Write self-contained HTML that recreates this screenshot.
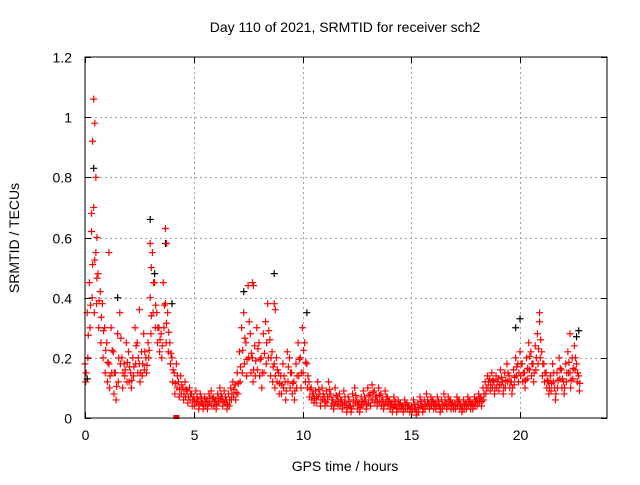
<!DOCTYPE html>
<html><head><meta charset="utf-8"><style>
body{margin:0;background:#fff;}
svg text{font-family:"Liberation Sans",sans-serif;font-size:14px;fill:#000;}
</style></head><body>
<svg id="chart" width="640" height="480" xmlns="http://www.w3.org/2000/svg">
<rect width="640" height="480" fill="#fff"/>
<text x="345" y="32" text-anchor="middle">Day 110 of 2021, SRMTID for receiver sch2</text>
<text x="345" y="471" text-anchor="middle">GPS time / hours</text>
<text transform="translate(19,238) rotate(-90)" text-anchor="middle">SRMTID / TECUs</text>
<g id="grid"></g><g id="ticks"></g><g id="marks"></g>
<rect x="85" y="57" width="522" height="361" fill="none" stroke="#000" stroke-width="1"/>
</svg>
<script>
const xTicks=[0,5,10,15,20];
const yTicks=[0,0.2,0.4,0.6,0.8,1,1.2];
const yTickLabels=["0","0.2","0.4","0.6","0.8","1","1.2"];
const stepHours=0.1;
const seriesHigh=[
0.18,0.35,0.45,0.62,0.7,0.55,0.48,0.42,0.38,0.30,
0.25,0.18,0.30,0.22,0.15,0.28,0.35,0.20,0.18,0.25,
0.22,0.15,0.20,0.30,0.25,0.18,0.22,0.28,0.20,0.25,
0.40,0.55,0.45,0.35,0.30,0.28,0.45,0.38,0.35,0.25,
0.20,0.15,0.18,0.12,0.14,0.10,0.12,0.09,0.10,0.08,
0.07,0.09,0.06,0.08,0.05,0.07,0.06,0.08,0.09,0.07,
0.06,0.08,0.10,0.07,0.09,0.06,0.08,0.10,0.12,0.11,
0.15,0.22,0.30,0.35,0.25,0.44,0.28,0.20,0.24,0.30,
0.25,0.20,0.28,0.32,0.38,0.26,0.22,0.18,0.20,0.15,
0.14,0.18,0.12,0.22,0.20,0.15,0.12,0.18,0.25,0.20,
0.30,0.25,0.18,0.12,0.10,0.08,0.09,0.12,0.08,0.10,
0.07,0.09,0.12,0.08,0.06,0.10,0.07,0.08,0.06,0.09,
0.05,0.07,0.04,0.08,0.10,0.06,0.05,0.07,0.09,0.06,
0.10,0.08,0.11,0.09,0.07,0.10,0.08,0.06,0.09,0.07,
0.06,0.05,0.07,0.04,0.06,0.05,0.04,0.06,0.05,0.04,
0.04,0.06,0.03,0.05,0.07,0.04,0.06,0.08,0.05,0.07,
0.06,0.05,0.07,0.04,0.06,0.08,0.05,0.07,0.06,0.05,
0.05,0.07,0.06,0.04,0.06,0.05,0.07,0.06,0.05,0.07,
0.06,0.08,0.07,0.10,0.12,0.14,0.13,0.15,0.12,0.14,
0.13,0.16,0.12,0.15,0.18,0.14,0.12,0.16,0.20,0.18,
0.22,0.18,0.15,0.20,0.25,0.22,0.18,0.24,0.28,0.32,
0.22,0.18,0.15,0.12,0.14,0.18,0.10,0.15,0.20,0.16,
0.12,0.18,0.22,0.15,0.20,0.24,0.18,0.14];
const seriesLow=[
0.12,0.20,0.30,0.40,0.35,0.38,0.30,0.25,0.20,0.15,
0.12,0.10,0.15,0.08,0.06,0.12,0.18,0.10,0.14,0.12,
0.12,0.10,0.14,0.18,0.15,0.12,0.14,0.16,0.15,0.20,
0.28,0.35,0.30,0.25,0.22,0.20,0.30,0.25,0.22,0.18,
0.12,0.08,0.10,0.07,0.08,0.06,0.07,0.05,0.06,0.04,
0.04,0.05,0.03,0.05,0.03,0.04,0.03,0.05,0.04,0.04,
0.03,0.05,0.06,0.04,0.05,0.03,0.04,0.06,0.07,0.06,
0.08,0.12,0.15,0.18,0.14,0.20,0.15,0.12,0.14,0.16,
0.14,0.10,0.15,0.18,0.20,0.14,0.12,0.10,0.12,0.08,
0.08,0.10,0.06,0.12,0.10,0.08,0.06,0.10,0.14,0.10,
0.15,0.12,0.10,0.07,0.06,0.05,0.05,0.07,0.04,0.06,
0.04,0.05,0.07,0.04,0.03,0.05,0.04,0.04,0.03,0.05,
0.02,0.04,0.02,0.04,0.05,0.03,0.02,0.04,0.05,0.03,
0.05,0.04,0.06,0.05,0.04,0.05,0.04,0.03,0.05,0.04,
0.03,0.02,0.04,0.02,0.03,0.03,0.02,0.03,0.03,0.02,
0.02,0.03,0.01,0.02,0.04,0.02,0.03,0.04,0.03,0.04,
0.03,0.03,0.04,0.02,0.03,0.04,0.03,0.04,0.03,0.03,
0.03,0.04,0.03,0.02,0.03,0.03,0.04,0.03,0.03,0.04,
0.04,0.05,0.04,0.06,0.08,0.10,0.09,0.10,0.08,0.10,
0.09,0.11,0.08,0.10,0.12,0.10,0.08,0.11,0.14,0.12,
0.14,0.12,0.10,0.13,0.16,0.14,0.12,0.16,0.18,0.20,
0.14,0.12,0.10,0.08,0.09,0.12,0.06,0.10,0.13,0.10,
0.08,0.12,0.15,0.10,0.13,0.16,0.12,0.09];
const outlierTimes=[0.4,0.45,0.35,0.5,0.3,0.55,3.0,3.05,3.7,3.75,7.7,7.75,8.7,8.75,20.9,22.3,1.1,2.5];
const outlierValues=[1.06,0.98,0.92,0.8,0.68,0.6,0.58,0.5,0.63,0.58,0.45,0.44,0.38,0.36,0.35,0.28,0.55,0.36];
const blackTimes=[0.4,3.0,3.7,8.7,7.3,20.0,10.2,22.7,0.1,1.5,19.8,22.6,3.2,4.0];
const blackValues=[0.83,0.66,0.58,0.48,0.42,0.33,0.35,0.29,0.13,0.40,0.30,0.27,0.48,0.38];
const squareTimes=[4.2];
const squareValues=[0.0];

const NS="http://www.w3.org/2000/svg";
const X0=85,X1=607,Y0=418,Y1=57,XMAX=24,YMAX=1.2;
function xs(v){return X0+(X1-X0)*v/XMAX;}
function ys(v){return Y0-(Y0-Y1)*v/YMAX;}
const grid=document.getElementById('grid'),ticks=document.getElementById('ticks'),marks=document.getElementById('marks');
function ln(p,x1,y1,x2,y2,st,dash){const l=document.createElementNS(NS,'line');l.setAttribute('x1',x1);l.setAttribute('y1',y1);l.setAttribute('x2',x2);l.setAttribute('y2',y2);l.setAttribute('stroke',st);if(dash)l.setAttribute('stroke-dasharray',dash);p.appendChild(l);return l;}
xTicks.forEach((t)=>{const x=Math.round(xs(t))+0.5;
 if(t>0){const g=ln(grid,x,Y1,x,Y0,'#a0a0a0','2,3');
 
 }
 const a=ln(ticks,x,Y0,x,Y0-6,'#000');
 const b=ln(ticks,x,Y1,x,Y1+6,'#000');
 const tx=document.createElementNS(NS,'text');tx.setAttribute('x',x);tx.setAttribute('y',Y0+22);tx.setAttribute('text-anchor','middle');tx.textContent=t;
 
 
 ticks.appendChild(tx);});
yTicks.forEach((t,i)=>{const y=Math.round(ys(t))+0.5;
 if(t>0&&t<1.2){const g=ln(grid,X0,y,X1,y,'#a0a0a0','2,3');
 
 }
 const a=ln(ticks,X0,y,X0+6,y,'#000');
 const b=ln(ticks,X1,y,X1-6,y,'#000');
 const tx=document.createElementNS(NS,'text');tx.setAttribute('x',X0-13);tx.setAttribute('y',y+5);tx.setAttribute('text-anchor','end');tx.textContent=yTickLabels[i];
 
 
 ticks.appendChild(tx);});
function plus(x,y,c,name){const p=document.createElementNS(NS,'path');
 p.setAttribute('d','M'+(x-3.5)+' '+y+'h7M'+x+' '+(y-3.5)+'v7');
 p.setAttribute('stroke',c);p.setAttribute('stroke-width','1.2');
 
 
 marks.appendChild(p);}
blackTimes.forEach((t,i)=>plus(xs(t),ys(blackValues[i]),'#000','black-point'));
seriesHigh.forEach((v,i)=>{const t=i*stepHours;plus(xs(t),ys(v),'#f00','red-point');
 const m=(v+seriesLow[i])/2;plus(xs(t+0.05),ys(m),'#f00','red-point');});
seriesLow.forEach((v,i)=>plus(xs(i*stepHours+0.03),ys(v),'#f00','red-point'));
outlierTimes.forEach((t,i)=>plus(xs(t),ys(outlierValues[i]),'#f00','red-outlier'));
squareTimes.forEach((t,i)=>{const r=document.createElementNS(NS,'rect');r.setAttribute('x',xs(t)-3);r.setAttribute('y',ys(squareValues[i])-3);r.setAttribute('width',6);r.setAttribute('height',4);r.setAttribute('fill','#f00');
 
 
 marks.appendChild(r);});
</script>
</body></html>
